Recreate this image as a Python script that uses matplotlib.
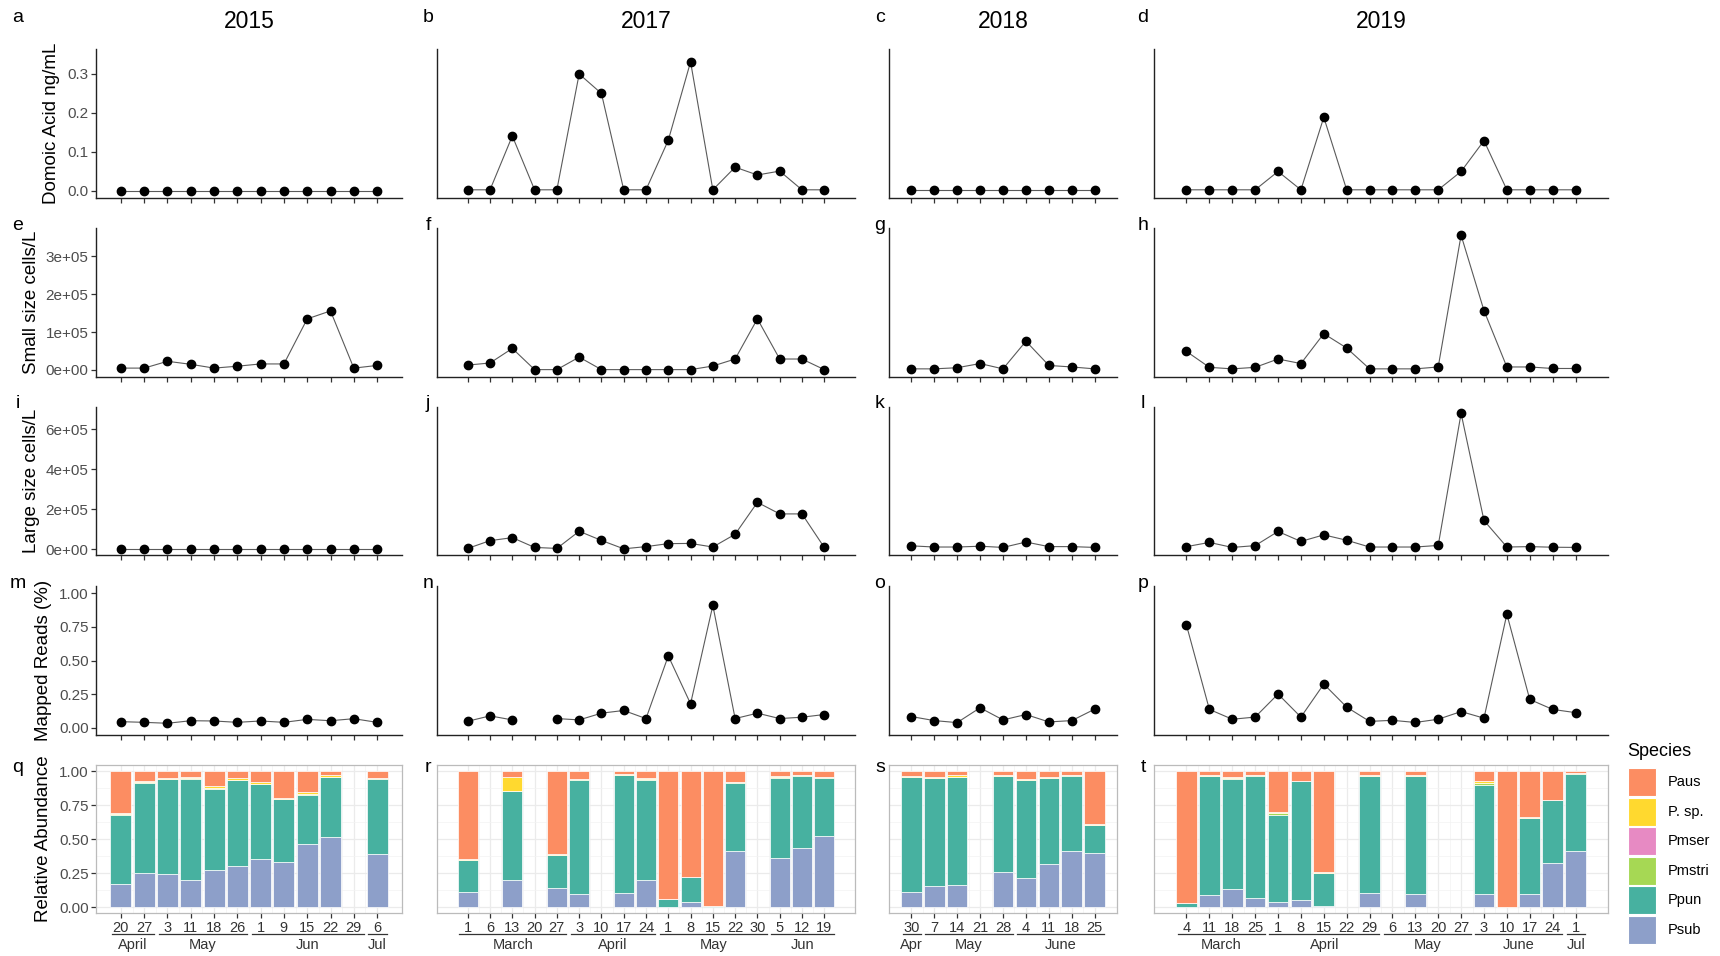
import matplotlib
import numpy as np

matplotlib.use("Agg")
import matplotlib.pyplot as plt
from matplotlib.patches import Rectangle

plt.rcParams["font.family"] = ["Liberation Sans", "DejaVu Sans"]

nan = np.nan
W, H = 1720, 956

years = ["2015", "2017", "2018", "2019"]

# sampling days (tick labels) and month groups (label, first index, last index)
days15 = ["20", "27", "3", "11", "18", "26", "1", "9", "15", "22", "29", "6"]
days17 = ["1", "6", "13", "20", "27", "3", "10", "17", "24", "1", "8", "15", "22", "30", "5", "12", "19"]
days18 = ["30", "7", "14", "21", "28", "4", "11", "18", "25"]
days19 = ["4", "11", "18", "25", "1", "8", "15", "22", "29", "6", "13", "20", "27", "3", "10", "17", "24", "1"]

months15 = [("April", 0, 1), ("May", 2, 5), ("Jun", 6, 10), ("Jul", 11, 11)]
months17 = [("March", 0, 4), ("April", 5, 8), ("May", 9, 13), ("Jun", 14, 16)]
months18 = [("Apr", 0, 0), ("May", 1, 4), ("June", 5, 8)]
months19 = [("March", 0, 3), ("April", 4, 8), ("May", 9, 12), ("June", 13, 16), ("Jul", 17, 17)]

# domoic acid ng/mL
da15 = [0, 0, 0, 0, 0, 0, 0, 0, 0, 0, 0, 0]
da17 = [0.003, 0.003, 0.141, 0.003, 0.003, 0.300, 0.250, 0.003, 0.003, 0.130, 0.331,
        0.003, 0.061, 0.041, 0.051, 0.003, 0.003]
da18 = [0.003, 0.003, 0.003, 0.003, 0.003, 0.003, 0.003, 0.003, 0.003]
da19 = [0.003, 0.003, 0.003, 0.003, 0.050, 0.003, 0.189, 0.003, 0.003, 0.003, 0.003,
        0.003, 0.050, 0.129, 0.003, 0.003, 0.003, 0.003]

# small size cells/L
small15 = [5000, 5000, 23000, 15000, 5000, 10000, 16000, 16000, 135000, 156000, 5000, 12000]
small17 = [13000, 18500, 57000, 1000, 1000, 34000, 1000, 1000, 1000, 1000, 1000,
           10500, 29000, 135000, 29000, 29000, 1000]
small18 = [3000, 3000, 6000, 17000, 3000, 76000, 12000, 8000, 3000]
small19 = [49000, 7000, 3000, 7000, 29000, 17000, 96000, 58000, 3000, 3000, 3000,
           8000, 356000, 157000, 8000, 8000, 4000, 4000]

# large size cells/L
large15 = [1000, 1000, 1000, 1000, 1000, 1000, 1000, 1000, 1000, 1000, 1000, 1000]
large17 = [3000, 42000, 57000, 8000, 3000, 89000, 43000, 1000, 12000, 27000, 28000,
           10000, 74000, 234000, 176000, 176000, 8000]
large18 = [16000, 10000, 10000, 14000, 8000, 35000, 12000, 12000, 8000]
large19 = [12000, 33000, 8000, 17000, 88000, 38000, 71000, 44000, 10000, 10000, 10000,
           18000, 680000, 143000, 10000, 12000, 9000, 8000]

# mapped reads (%)
reads15 = [0.047, 0.042, 0.035, 0.054, 0.052, 0.042, 0.052, 0.042, 0.064, 0.054, 0.069, 0.042]
reads17 = [0.05, 0.09, 0.06, nan, 0.07, 0.06, 0.11, 0.13, 0.07, 0.535, 0.18, 0.91,
           0.07, 0.11, 0.07, 0.08, 0.10]
reads18 = [0.085, 0.055, 0.04, 0.15, 0.06, 0.10, 0.045, 0.055, 0.14]
reads19 = [0.763, 0.138, 0.065, 0.081, 0.252, 0.081, 0.326, 0.155, 0.049, 0.057, 0.041,
           0.065, 0.122, 0.073, 0.845, 0.212, 0.138, 0.114]

# relative abundance per species (segment heights); nan = no sample
psub15 = [.172, .25, .245, .203, .275, .304, .355, .333, .466, .517, nan, .392]
ppun15 = [.509, .667, .696, .741, .598, .630, .552, .461, .362, .441, nan, .552]
pmstri15 = [.005, .003, .003, .003, .003, .003, .003, .003, .003, .003, nan, .003]
pmser15 = [0, 0, 0, 0, 0, 0, 0, 0, 0, 0, nan, 0]
psp15 = [.006, .008, .01, .01, .017, .01, .01, .01, .019, .012, nan, .006]
paus15 = [.308, .072, .046, .043, .107, .053, .080, .193, .150, .027, nan, .047]

psub17 = [.115, nan, .199, nan, .143, .098, nan, .106, .199, .002, .037, 0, .415, nan, .366, .435, .526]
ppun17 = [.234, nan, .656, nan, .243, .841, nan, .865, .740, .057, .189, .01, .501, nan, .587, .531, .427]
pmstri17 = [.002, nan, .002, nan, .002, .002, nan, .003, .003, 0, 0, 0, .002, nan, .003, .004, .002]
pmser17 = [0, nan, 0, nan, 0, 0, nan, 0, 0, 0, 0, 0, 0, nan, 0, 0, 0]
psp17 = [.005, nan, .103, nan, .005, .005, nan, .004, .008, 0, 0, 0, .005, nan, .009, .002, .002]
paus17 = [.644, nan, .040, nan, .607, .054, nan, .022, .050, .941, .774, .99, .077, nan, .035, .028, .043]

psub18 = [.11, .157, .165, nan, .258, .219, .317, .415, .40]
ppun18 = [.846, .794, .791, nan, .705, .715, .634, .553, .202]
pmstri18 = [.005, .002, .003, nan, .005, .005, .002, .002, .002]
pmser18 = [0, 0, 0, nan, 0, 0, 0, 0, 0]
psp18 = [.004, .006, .01, nan, .002, .005, .005, .002, .005]
paus18 = [.035, .041, .031, nan, .030, .056, .042, .028, .391]

psub19 = [0, .091, .135, .066, .039, .054, .012, nan, .108, nan, .098, nan, nan, .098, 0, .098, .329, .418]
ppun19 = [.03, .872, .811, .90, .639, .872, .239, nan, .855, nan, .865, nan, nan, .799, .005, .560, .457, .565]
pmstri19 = [0, .004, .002, .005, .015, .002, .003, nan, .004, nan, .004, nan, nan, .017, 0, .002, .002, .002]
pmser19 = [0, 0, 0, 0, 0, 0, 0, nan, 0, nan, 0, nan, nan, 0, 0, 0, 0, 0]
psp19 = [0, .006, .01, .002, .01, .002, .004, nan, .008, nan, .003, nan, nan, .017, 0, .005, .003, .005]
paus19 = [.97, .027, .042, .027, .297, .07, .742, nan, .025, nan, .03, nan, nan, .069, .995, .335, .209, .01]

species = ["Paus", "P. sp.", "Pmser", "Pmstri", "Ppun", "Psub"]
species_colors = ["#FC8D62", "#FFD92F", "#E78AC3", "#A6D854", "#47B1A0", "#8D9FC9"]

days = [days15, days17, days18, days19]
months = [months15, months17, months18, months19]
line_rows = [
    [da15, da17, da18, da19],
    [small15, small17, small18, small19],
    [large15, large17, large18, large19],
    [reads15, reads17, reads18, reads19],
]
# stacked bottom -> top: Psub, Ppun, Pmstri, Pmser, P. sp., Paus
bar_stacks = [
    [psub15, ppun15, pmstri15, pmser15, psp15, paus15],
    [psub17, ppun17, pmstri17, pmser17, psp17, paus17],
    [psub18, ppun18, pmstri18, pmser18, psp18, paus18],
    [psub19, ppun19, pmstri19, pmser19, psp19, paus19],
]
stack_colors = ["#8D9FC9", "#47B1A0", "#A6D854", "#E78AC3", "#FFD92F", "#FC8D62"]

row_labels = ["Domoic Acid ng/mL", "Small size cells/L", "Large size cells/L",
              "Mapped Reads (%)", "Relative Abundance"]
row_ylims = [(-0.018, 0.364), (-18500, 375000), (-30000, 712000), (-0.052, 1.054), (-0.041, 1.046)]
row_yticks = [[0, 0.1, 0.2, 0.3], [0, 1e5, 2e5, 3e5], [0, 2e5, 4e5, 6e5],
              [0, 0.25, 0.5, 0.75, 1.0], [0, 0.25, 0.5, 0.75, 1.0]]
row_yticklabels = [["0.0", "0.1", "0.2", "0.3"],
                   ["0e+00", "1e+05", "2e+05", "3e+05"],
                   ["0e+00", "2e+05", "4e+05", "6e+05"],
                   ["0.00", "0.25", "0.50", "0.75", "1.00"],
                   ["0.00", "0.25", "0.50", "0.75", "1.00"]]
letters = ["abcd", "efgh", "ijkl", "mnop", "qrst"]

# layout in pixels
cols_px = [(96, 402), (437, 855), (889, 1117), (1154, 1608)]
rows_px = [(49, 198), (228, 377), (407, 555), (586, 735), (765, 913)]
xpad = [1.07, 1.38, 0.97, 1.42]
letter_x = [18, 428, 880, 1143]
letter_y = [18, 226, 404, 584, 767]
ylabel_x = [52, 31, 32, 44, 44]

TICK_GREY = "#4D4D4D"


def add_axes_px(left, top, right, bottom):
    return fig.add_axes([left / W, 1 - bottom / H, (right - left) / W, (bottom - top) / H])


fig = plt.figure(figsize=(W / 100, H / 100), dpi=100)

for c in range(4):
    n = len(days[c])
    x = np.arange(n)
    left, right = cols_px[c]
    for r in range(5):
        top, bottom = rows_px[r]
        ax = add_axes_px(left, top, right, bottom)
        ax.set_xlim(-xpad[c], n - 1 + xpad[c])
        ax.set_ylim(*row_ylims[r])
        ax.set_xticks(x)
        ax.set_xticklabels([])
        ax.set_yticks(row_yticks[r])
        if c == 0:
            ax.set_yticklabels(row_yticklabels[r], color=TICK_GREY, fontsize=11)
        else:
            ax.tick_params(axis="y", left=False, labelleft=False)
        ax.tick_params(axis="both", length=3.4, width=0.9, color="#333333", pad=2)

        if r < 4:
            y = np.array(line_rows[r][c], dtype=float)
            ax.plot(x, y, color="#5A5A5A", lw=0.8, zorder=2)
            ax.plot(x, y, "o", color="black", ms=6, zorder=3)
            for s in ["top", "right"]:
                ax.spines[s].set_visible(False)
            for s in ["left", "bottom"]:
                ax.spines[s].set_color("#222222")
                ax.spines[s].set_linewidth(1.0)
        else:
            bottoms = np.zeros(n)
            for seg, col in zip(bar_stacks[c], stack_colors):
                h = np.array(seg, dtype=float)
                ok = ~np.isnan(h)
                ax.bar(x[ok], h[ok], bottom=bottoms[ok], width=0.9, color=col,
                       edgecolor="white", linewidth=0.5, zorder=2)
                bottoms[ok] += h[ok]
            for s in ax.spines.values():
                s.set_color("#BBBBBB")
                s.set_linewidth(0.9)
            ax.set_yticks([0.125, 0.375, 0.625, 0.875], minor=True)
            ax.set_xticks(np.arange(n - 1) + 0.5, minor=True)
            ax.tick_params(which="minor", length=0)
            ax.grid(True, which="major", color="#EBEBEB", lw=0.9, zorder=0)
            ax.grid(True, which="minor", color="#F3F3F3", lw=0.5, zorder=0)
            ax.set_axisbelow(True)

            tr = ax.get_xaxis_transform()
            for i, d in enumerate(days[c]):
                ax.text(i, -0.098, d, transform=tr, ha="center", va="center",
                        fontsize=10.5, color="#333333")
            for name, a, b in months[c]:
                ax.plot([a - 0.38, b + 0.42], [-0.142, -0.142], transform=tr,
                        clip_on=False, color="#333333", lw=0.9)
                ax.text((a + b) / 2 + 0.02, -0.218, name, transform=tr, ha="center",
                        va="center", fontsize=10.5, color="#333333")

        fig.text(letter_x[c] / W, 1 - letter_y[r] / H, letters[r][c], fontsize=14,
                 ha="center", va="center")

    fig.text((left + right) / 2 / W, 1 - 21 / H, years[c], fontsize=16.5,
             ha="center", va="center")

for r in range(5):
    top, bottom = rows_px[r]
    fig.text(ylabel_x[r] / W, 1 - (top + bottom) / 2 / H, row_labels[r], rotation=90,
             fontsize=13.5, ha="center", va="center")

# legend drawn by hand so the swatch size and spacing match
fig.text(1627 / W, 1 - 752 / H, "Species", fontsize=13, ha="left", va="center")
for i, (name, col) in enumerate(zip(species, species_colors)):
    y0 = 768 + i * 29.6
    fig.add_artist(Rectangle((1628 / W, 1 - (y0 + 28) / H), 28 / W, 28 / H,
                             transform=fig.transFigure, facecolor=col,
                             edgecolor="white", linewidth=0.8))
    fig.text(1668 / W, 1 - (y0 + 14) / H, name, fontsize=10.5, ha="left", va="center")

fig.savefig("out.png", dpi=100)
